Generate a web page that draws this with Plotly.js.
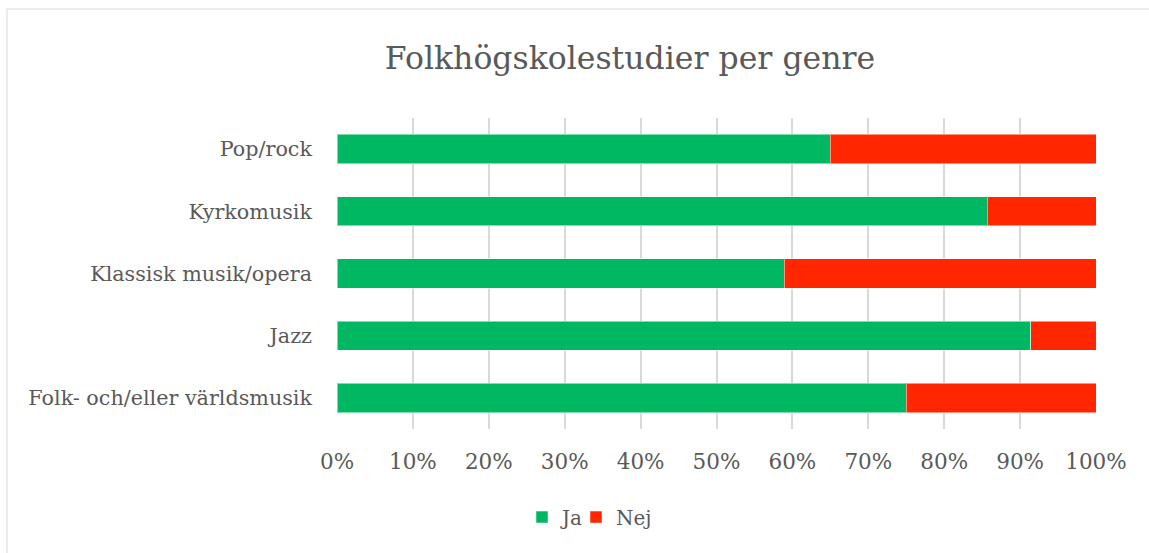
<!DOCTYPE html>
<html>
<head>
<meta charset="utf-8">
<script src="https://cdn.plot.ly/plotly-3.0.1.min.js"></script>
<style>html,body{margin:0;padding:0;background:#fff;}#chart{width:1149px;height:553px;}</style>
</head>
<body>
<div id="chart"></div>
<script>
var categories = ["Folk- och/eller världsmusik", "Jazz", "Klassisk musik/opera", "Kyrkomusik", "Pop/rock"];
var jaValues = [75.0, 91.4, 58.9, 85.7, 65.0];
var nejValues = jaValues.map(function(v){ return +(100 - v).toFixed(1); });
var xTickVals = [0,10,20,30,40,50,60,70,80,90,100];
var xTickText = ["0%","10%","20%","30%","40%","50%","60%","70%","80%","90%","100%"];

var FONT = "DejaVu Serif, Liberation Serif, serif";
var GREY = "#595959";

var traces = [
  {type:"bar", orientation:"h", name:"Ja", y:categories, x:jaValues, width:0.47, legend:"legend",
   marker:{color:"#00B862", line:{color:"rgba(255,255,255,0.5)", width:1}}},
  {type:"bar", orientation:"h", name:"Nej", y:categories, x:nejValues, width:0.47, legend:"legend2",
   marker:{color:"#FF2600", line:{color:"rgba(255,255,255,0.5)", width:1}}}
];

function legendAt(px){
  return {orientation:"h", xref:"container", yref:"container", x:px/1149, xanchor:"left",
          y:0.065, yanchor:"middle", font:{family:FONT, size:20, color:GREY},
          itemwidth:30, bgcolor:"rgba(0,0,0,0)", borderwidth:0};
}

var layout = {
  width:1149, height:553,
  barmode:"stack",
  paper_bgcolor:"#fff", plot_bgcolor:"#fff",
  margin:{l:337, r:53, t:118, b:124, pad:0},
  font:{family:FONT, color:GREY, size:20},
  title:{text:"Folkhögskolestudier per genre", font:{family:FONT, size:31.5, color:GREY},
         x:630/1149, xref:"container", xanchor:"center", y:0.895, yref:"container", yanchor:"middle"},
  xaxis:{range:[0,100], tickvals:xTickVals, ticktext:xTickText, showgrid:true,
         gridcolor:"#D9D9D9", gridwidth:2, zeroline:false, showline:false, ticks:"",
         ticklabelstandoff:17, tickfont:{family:FONT, size:21.5, color:GREY}, fixedrange:true},
  yaxis:{range:[-0.5, 4.5], type:"category", showgrid:false, zeroline:false, showline:false,
         ticks:"", ticklabelstandoff:24, tickfont:{family:FONT, size:20.7, color:GREY}, fixedrange:true},
  legend:legendAt(522),
  legend2:legendAt(576),
  showlegend:true,
  shapes:[{type:"rect", xref:"paper", yref:"paper", x0:-330/759, x1:1160/759, y0:-160/311, y1:(311+109)/311,
           line:{color:"#D9D9D9", width:1}, fillcolor:"rgba(0,0,0,0)", layer:"below"}]
};

Plotly.newPlot("chart", traces, layout, {displayModeBar:false, staticPlot:true});
</script>
</body>
</html>
